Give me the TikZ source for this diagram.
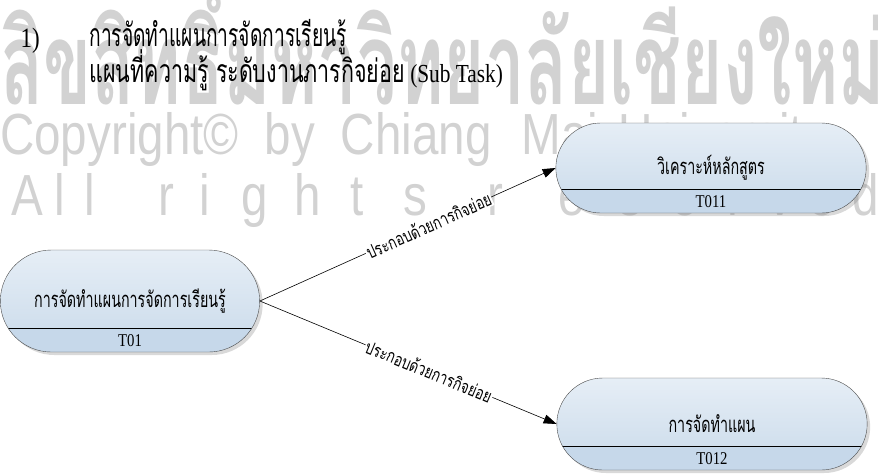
\documentclass[tikz,border=0pt]{standalone}
\usepackage{fontspec}
\setmainfont{Liberation Serif}
\newfontfamily\narrowserif[FakeStretch=0.82]{Liberation Serif}
\newfontfamily\thaifont[Script=Thai,FakeStretch=0.6]{Loma}
\newfontfamily\thaisubfont[Script=Thai,FakeStretch=0.67]{Loma}
\newfontfamily\thaitaskfont[Script=Thai,FakeStretch=0.65]{Loma}
\newfontfamily\thaismallfont[Script=Thai,FakeStretch=0.75]{Loma}
\newfontfamily\wmthaifont[Script=Thai]{Loma}
\newfontfamily\wmfont[FakeStretch=0.82]{Liberation Sans}
\usetikzlibrary{arrows.meta,positioning,shapes.misc,shadows}

\definecolor{taskTop}{HTML}{E6EEF6}
\definecolor{taskBot}{HTML}{C9DAEA}
\definecolor{taskBand}{HTML}{C6D8EA}
\definecolor{wmgray}{HTML}{D2D2D2}

\tikzset{
  task/.style={rounded rectangle, draw=black!70, thin, top color=taskTop, bottom color=taskBot,
    drop shadow={shadow xshift=3pt, shadow yshift=-3pt, opacity=.3},
    font=\thaitaskfont\fontsize{22}{22}\selectfont,
    path picture={
      \fill[taskBand] ([yshift=24pt]path picture bounding box.south west) rectangle (path picture bounding box.south east);
      \draw[black, semithick] ([yshift=24pt]path picture bounding box.south west) -- ([yshift=24pt]path picture bounding box.south east);
    }},
  taskid/.style={font=\narrowserif\fontsize{18}{18}\selectfont, inner sep=0pt, anchor=center, yshift=12pt},
  rel/.style={-{Triangle[length=13pt,width=9pt]}, semithick},
  rellabel/.style={sloped, fill=white, inner sep=1pt, pos=0.57, font=\thaismallfont\fontsize{18}{18}\selectfont},
  wm/.style={text=wmgray, inner sep=0pt},
}

\begin{document}
\begin{tikzpicture}[x=1pt,y=-1pt]
  \useasboundingbox (0,0) rectangle (878,475);
  % watermark
  \node[wm, anchor=base west] (wmthai) at (0,104) {\resizebox{885pt}{122pt}{\wmthaifont\bfseries ลิขสิทธิ์มหาวิทยาลัยเชียงใหม่}};
  \node[wm, anchor=base west, font=\wmfont\fontsize{58}{58}\selectfont] (wmcopy) at (0,154)
    {Copyright\textcopyright\hspace{26pt}by\hspace{26pt}Chiang\hspace{30pt}Mai\hspace{20pt}University};
  \foreach \ch/\xx [count=\i] in {A/27,l/60,l/90,r/166,i/205,g/255,h/308,t/357,s/415,r/495,e/572,s/630,e/685,r/735,v/780,e/822,d/866}
    \node[wm, anchor=base, font=\wmfont\fontsize{58}{58}\selectfont] (wm\i) at (\xx,215) {\ch};

  % title
  \node[anchor=base west, font=\narrowserif\fontsize{28}{28}\selectfont] (num) at (17,47) {1)};
  \node[anchor=base west, font=\thaifont\fontsize{32}{32}\selectfont] (title) at (86,46) {การจัดทำแผนการจัดการเรียนรู้};
  \node[anchor=base west, font=\narrowserif\fontsize{26}{26}\selectfont] (subtitle) at (86,82)
    {{\thaisubfont\fontsize{32}{32}\selectfont แผนที่ความรู้ ระดับงานภารกิจย่อย} (Sub Task)};

  % tasks
  \node[task, minimum width=266pt, minimum height=102pt, label={[taskid]south:T01}] (t01) at (130,301) {การจัดทำแผนการจัดการเรียนรู้};
  \node[task, minimum width=317pt, minimum height=90pt, label={[taskid]south:T011}] (t011) at (711,168) {วิเคราะห์หลักสูตร};
  \node[task, minimum width=317pt, minimum height=92pt, label={[taskid]south:T012}] (t012) at (712,424) {การจัดทำแผน};

  \draw[rel] (t01.east) -- node[rellabel] {ประกอบด้วยการกิจย่อย} (t011.west);
  \draw[rel] (t01.east) -- node[rellabel] {ประกอบด้วยการกิจย่อย} (t012.west);
\end{tikzpicture}
\end{document}
